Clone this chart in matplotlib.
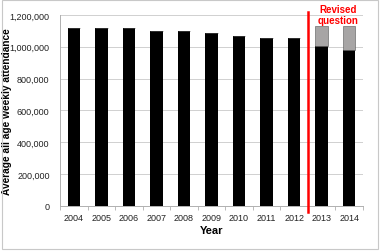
import matplotlib
matplotlib.use("Agg")
import matplotlib.pyplot as plt
from matplotlib.ticker import FuncFormatter

plt.rcParams["font.family"] = ["Liberation Sans", "DejaVu Sans"]

years = ["2004", "2005", "2006", "2007", "2008", "2009", "2010", "2011", "2012", "2013", "2014"]
attendance = [1120000, 1120000, 1115000, 1100000, 1096000, 1086000, 1066000, 1052000, 1052000, 1006000, 982000]
revised_extra = [0, 0, 0, 0, 0, 0, 0, 0, 0, 122000, 146000]

fig = plt.figure(figsize=(3.8, 2.53), dpi=100)
ax = fig.add_axes([0.158, 0.182, 0.797, 0.755])

x = list(range(len(years)))
ax.bar(x, attendance, width=0.45, color="black", zorder=3)
ax.bar(x, revised_extra, bottom=attendance, width=0.45, color="#a7a5a5",
       edgecolor="#555555", linewidth=0.4, zorder=3)

ax.set_xlim(-0.5, len(years) - 0.5)
ax.set_ylim(0, 1200000)
ax.set_yticks(range(0, 1200001, 200000))
ax.yaxis.set_major_formatter(FuncFormatter(lambda v, p: f"{int(v):,}"))
ax.set_xticks(x)
ax.set_xticklabels(years)
ax.set_xticks([i + 0.5 for i in range(-1, len(years))], minor=True)
ax.tick_params(axis="x", which="major", length=0, labelsize=6.5, colors="#222222", pad=5)
ax.tick_params(axis="x", which="minor", length=3, color="#b0b0b0", width=0.6)
ax.tick_params(axis="y", length=0, labelsize=6.5, colors="#222222", pad=7.5)

ax.grid(axis="y", color="#d0d0d0", linewidth=0.7, zorder=0)
for s in ["top", "right"]:
    ax.spines[s].set_visible(False)
ax.spines["left"].set_color("#b0b0b0")
ax.spines["bottom"].set_color("#b0b0b0")
ax.spines["left"].set_linewidth(0.7)
ax.spines["bottom"].set_linewidth(0.7)

ax.set_xlabel("Year", fontsize=8, fontweight="bold", labelpad=2)
ax.set_ylabel("Average all age weekly attendance", fontsize=7.3, fontweight="bold")
ax.yaxis.set_label_coords(-0.16, 0.5)

ax.plot([8.5, 8.5], [-40000, 1220000], color="#ff0000", linewidth=1.8, clip_on=False, zorder=4)
ax.text(9.6, 1270000, "Revised\nquestion", color="#ff0000", fontsize=7,
        fontweight="bold", ha="center", va="top", linespacing=1.15)

fig.patches.append(plt.Rectangle((0.004, 0.01), 0.99, 0.985, transform=fig.transFigure,
                                 fill=False, edgecolor="#c8c8c8", linewidth=0.8))
fig.savefig("out.png", dpi=100)
